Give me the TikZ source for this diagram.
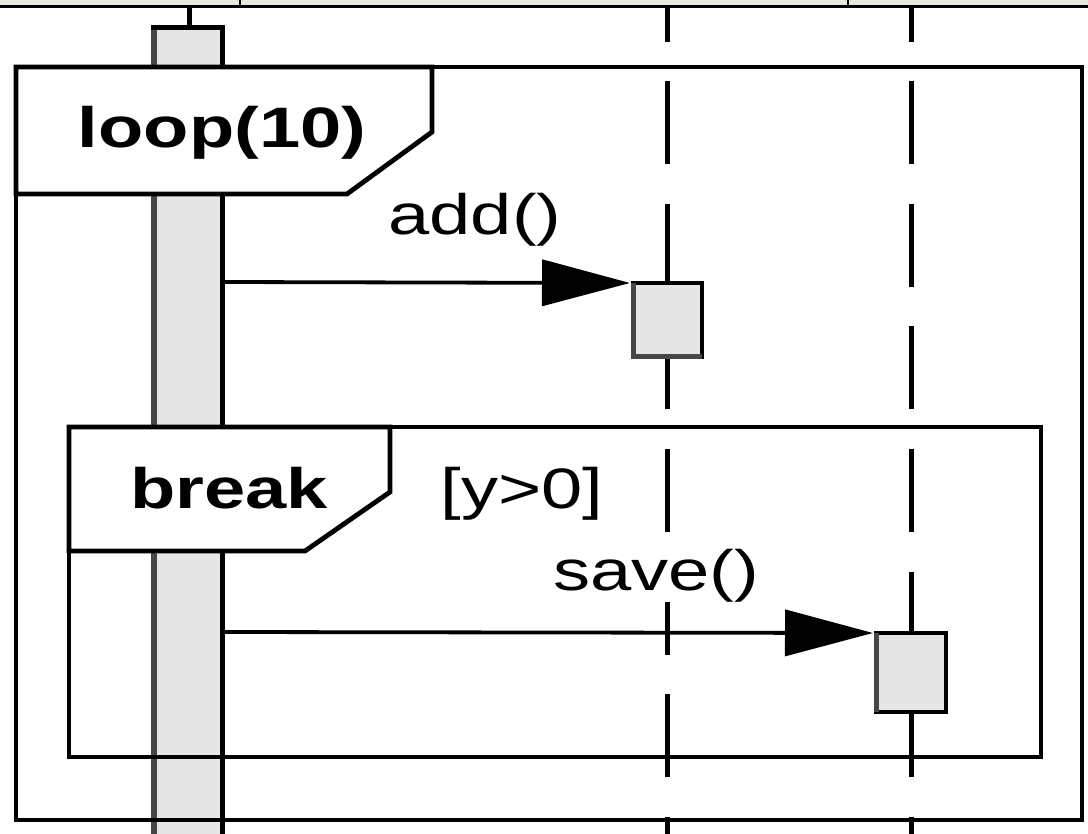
\documentclass[tikz,border=0pt]{standalone}
\usepackage{fontspec}
\newfontfamily\df[FakeStretch=1.3]{Liberation Sans}
\usetikzlibrary{arrows.meta}
\definecolor{beige}{HTML}{E8E8DC}
\definecolor{dgray}{HTML}{474747}
\definecolor{actfill}{HTML}{E6E6E6}
\begin{document}
\begin{tikzpicture}[x=1pt,y=-1pt,
  frame/.style={draw=black,line width=4.8pt,line join=miter},
  lbl/.style={font=\df\fontsize{57}{60}\selectfont, inner sep=0pt, anchor=base},
  bold/.style={font=\df\bfseries\fontsize{57}{60}\selectfont},
  life/.style={line width=5pt, dash pattern=on 83pt off 39.5pt, dash phase=48pt},
  box/.style={draw=black, fill=actfill, line width=4.8pt, inner sep=0pt, outer sep=0pt},
  msg/.style={line width=3.8pt, -{Triangle[length=88pt,width=46pt]}},
  edge/.style={dgray, line width=5pt}]
\useasboundingbox (0,0) rectangle (1088,834);
% header strip
\fill[beige] (0,0) rectangle (1088,7);
\draw[line width=2.5pt] (0,6.5) -- (1088,6.5);
\draw[line width=2pt] (240,0) -- (240,6);
\draw[line width=2pt] (848,0) -- (848,6);
% lifelines
\coordinate (l1top) at (189,7);
\coordinate (l1bar) at (189,27);
\draw[line width=5pt] (l1top) -- (l1bar);
\coordinate (l2top) at (667,7);
\coordinate (l2bot) at (667,834);
\coordinate (l3top) at (911,7);
\coordinate (l3bot) at (911,834);
\draw[life] (l2top) -- (l2bot);
\draw[life] (l3top) -- (l3bot);
% activation bar of the first lifeline
\fill[actfill] (154,27) rectangle (222,840);
\draw[edge, line width=6pt] (154,840) -- (154,25);
\draw[line width=5pt] (151,27.5) -- (222,27.5) -- (222,840);
\coordinate (a1) at (222,282);
\coordinate (a2) at (222,632);
% loop frame
\draw[frame] (16,67) rectangle (1082,820);
\draw[frame, fill=white] (16,67) -- (432,67) -- (432,132) -- (347,194) -- (16,194) -- cycle;
\node[lbl, bold] (tloop) at (222,148) {loop(10)};
% break frame
\draw[frame] (69,427) rectangle (1041,757);
\draw[frame, fill=white] (69,427) -- (390,427) -- (390,492) -- (305,551) -- (69,551) -- cycle;
\node[lbl, bold] (tbreak) at (229,508) {break};
\node[lbl] (tguard) at (522,508) {[y>0]};
% messages
\node[lbl] (tadd) at (475,235) {add()};
\node[lbl, fill=white] (tsave) at (656,590) {save()};
\node[box, minimum width=69pt, minimum height=74pt] (b2) at (667.5,320) {};
\draw[edge] (b2.north west) -- (b2.south west) -- (b2.south east);
\node[box, minimum width=70pt, minimum height=79pt] (b3) at (911,672.5) {};
\draw[edge] (b3.north west) -- (b3.south west);
\draw[msg] (a1) -- ([xshift=-3pt]b2.north west);
\draw[msg] (a2) -- ([xshift=-3pt]b3.north west);
\end{tikzpicture}
\end{document}
